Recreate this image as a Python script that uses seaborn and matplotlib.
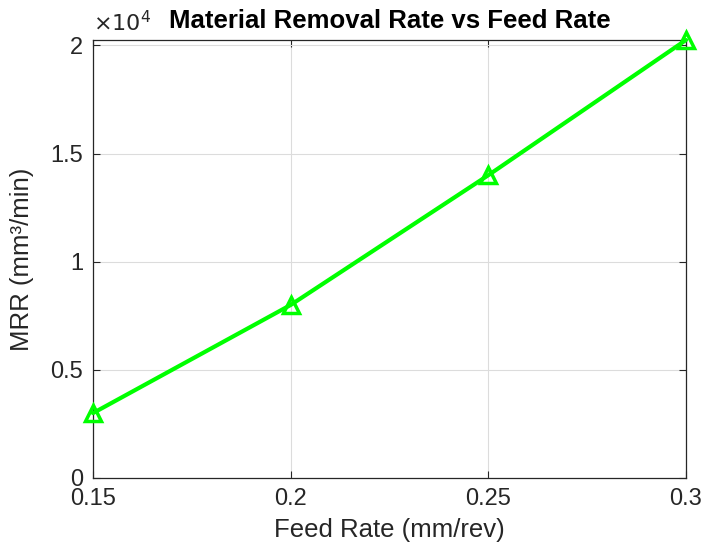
import matplotlib
matplotlib.use("Agg")
import matplotlib.pyplot as plt
import seaborn as sns
import pandas as pd

feed_rate = [0.15, 0.20, 0.25, 0.30]
mrr = [3000, 8000, 14000, 20250]
x_ticks = [0.15, 0.2, 0.25, 0.3]
x_tick_labels = ["0.15", "0.2", "0.25", "0.3"]
y_ticks = [0, 5000, 10000, 15000, 20000]
y_tick_labels = ["0", "0.5", "1", "1.5", "2"]

sns.set_theme(style="white")
plt.rcParams['font.family'] = ['Liberation Sans', 'DejaVu Sans']

df = pd.DataFrame({"Feed Rate": feed_rate, "MRR": mrr})

fig = plt.figure(figsize=(7.04, 5.46), dpi=100)
ax = fig.add_axes([93/704, 1 - 478/546, (686-93)/704, (478-40)/546])

sns.lineplot(data=df, x="Feed Rate", y="MRR", ax=ax, color="#00FF00",
             linewidth=3, marker="^", markersize=11, markerfacecolor="none",
             markeredgecolor="#00FF00", markeredgewidth=2.5, clip_on=False, zorder=5)

ax.set_xlim(0.15, 0.3)
ax.set_ylim(0, 20250)
ax.set_xticks(x_ticks)
ax.set_xticklabels(x_tick_labels)
ax.set_yticks(y_ticks)
ax.set_yticklabels(y_tick_labels)
ax.grid(True, color="#dcdcdc", linewidth=0.8)
ax.set_axisbelow(True)
for s in ax.spines.values():
    s.set_color("#262626")
    s.set_linewidth(0.9)
ax.tick_params(direction="in", length=5, width=0.8, color="#262626",
               labelsize=17, labelcolor="#262626", top=True, right=True,
               bottom=True, left=True, pad=7)
ax.set_xlabel("Feed Rate (mm/rev)", fontsize=18.5, color="#262626", labelpad=6)
ax.set_ylabel("MRR (mm³/min)", fontsize=18.5, color="#262626", labelpad=12)
ax.set_title("Material Removal Rate vs Feed Rate", fontsize=18.5, fontweight="bold",
             color="black", pad=9)
ax.text(0.0, 1.01, r"$\times10^{4}$", transform=ax.transAxes, fontsize=16,
        color="#262626", ha="left", va="bottom", family="DejaVu Sans")

fig.savefig("out.png", dpi=100)
